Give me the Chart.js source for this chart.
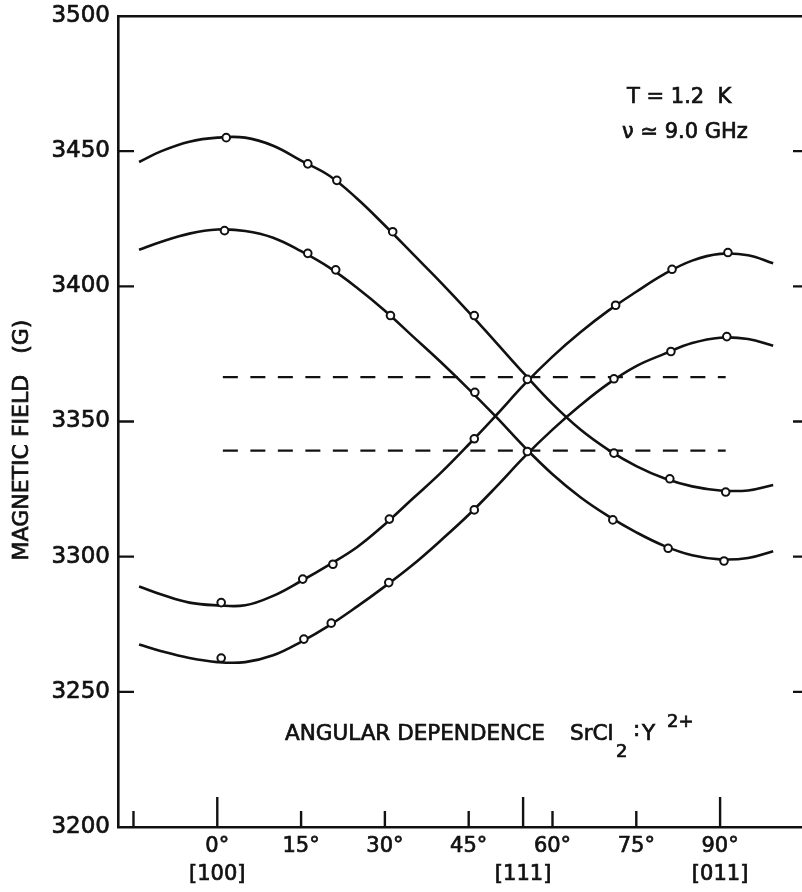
<!DOCTYPE html>
<html>
<head>
<meta charset="utf-8">
<script src="https://cdn.jsdelivr.net/npm/chart.js@4.4.1/dist/chart.umd.min.js"></script>
<style>
  html, body { margin: 0; padding: 0; background: #fff; overflow: hidden; }
  #wrap { position: relative; width: 802px; height: 892px; }
</style>
</head>
<body>
<div id="wrap"><canvas id="chart"></canvas></div>
<script>
const curveAngles = [-14, -10, -5, 0, 5, 10, 15, 20, 25, 30, 35, 40, 45, 50, 55, 60, 65, 70, 75, 80, 85, 90, 95, 99.5];

// Fitted curves (G)
const curveUpperFalling = [3446, 3450, 3453.5, 3455, 3455, 3452, 3446.5, 3441, 3432.5, 3422.5, 3412, 3401.5, 3390.5, 3379, 3367.5, 3356.5, 3347, 3339.5, 3333.5, 3329, 3326, 3324.5, 3324.5, 3326.5];
const curveLowerFalling = [3413.5, 3416.5, 3419.5, 3421, 3420.5, 3418, 3413, 3407, 3399.5, 3391, 3381.5, 3372, 3362, 3351.5, 3340.5, 3330.5, 3322, 3315, 3309, 3304, 3300.5, 3299, 3299.5, 3302];
const curveUpperRising = [3289, 3286, 3283, 3282, 3282, 3285.5, 3291, 3297, 3303.5, 3312, 3321.5, 3331, 3341.5, 3352.5, 3363.8, 3374, 3383, 3391, 3398, 3404.5, 3409.5, 3412, 3411.5, 3408.5];
const curveLowerRising = [3267.5, 3265, 3262.5, 3261, 3261, 3263.5, 3268.5, 3274.5, 3281.5, 3289, 3297, 3306, 3315.5, 3326, 3337, 3347, 3356, 3364, 3370.5, 3375, 3379, 3381, 3380.5, 3378];

// Measured points [angle, field]
const pointsUpperFalling = [[1.6, 3455], [16.2, 3445.3], [21.4, 3439.2], [31.4, 3420.2], [46, 3389.2], [71, 3338.3], [81, 3328.8], [91, 3323.9]];
const pointsLowerFalling = [[1.3, 3420.6], [16.2, 3412.2], [21.2, 3406.1], [31, 3389.2], [46.1, 3360.8], [70.8, 3313.6], [80.7, 3303.1], [90.7, 3298.4]];
const pointsUpperRising = [[0.7, 3283], [15.3, 3291.7], [20.7, 3297.2], [30.8, 3313.9], [46, 3343.6], [71.3, 3393], [81.4, 3406.3], [91.4, 3412.5]];
const pointsLowerRising = [[0.7, 3262.5], [15.5, 3269.5], [20.4, 3275.4], [30.7, 3290.4], [46, 3317.3], [71, 3365.8], [81.2, 3375.9], [91.2, 3381.4]];
const pointsCrossing = [[55.5, 3365.6], [55.5, 3338.9]];

// Dashed reference levels (G) and their angular extent
const dashLevels = [3366.4, 3339.2];
const dashRange = [1, 91];

// Axis ticks
const tickAngles = [-15, 0, 15, 30, 45, 54.74, 60, 75, 90];
const degreeLabels = ['', '0°', '15°', '30°', '45°', '', '60°', '75°', '90°'];
const directionLabels = ['', '[100]', '', '', '', '[111]', '', '', '[011]'];
const longTickAngles = [0, 54.74, 90];
const xRange = [-17.77, 104.66];
const yRange = [3200, 3500];
const yStep = 50;

const ink = '#111';
const fontFamily = '"DejaVu Sans", sans-serif';

const toXY = (angles, values) => angles.map((a, i) => ({ x: a, y: values[i] }));
const pairsToXY = (pairs) => pairs.map(([a, v]) => ({ x: a, y: v }));

const curveSet = (values) => ({
    type: 'line',
    data: toXY(curveAngles, values),
    borderColor: ink,
    borderWidth: 2.6,
    pointRadius: 0,
    tension: 0.4,
    fill: false,
    order: 2
});

const pointSet = (pairs) => ({
    type: 'line',
    data: pairsToXY(pairs),
    showLine: false,
    pointRadius: 3.8,
    pointBorderWidth: 2,
    pointBackgroundColor: '#fff',
    pointBorderColor: ink,
    order: 1
});

const dashSet = (level) => ({
    type: 'line',
    data: dashRange.map(a => ({ x: a, y: level })),
    borderColor: ink,
    borderWidth: 2.3,
    borderDash: [15, 12.5],
    pointRadius: 0,
    order: 3
});

// helper: text a bit heavier, like the lettering of the original
const heavyText = (ctx, text, x, y) => {
    ctx.fillText(text, x, y);
    ctx.strokeText(text, x, y);
};

// Inward tick marks and text annotations
const frameExtras = {
    id: 'frameExtras',
    afterDraw(chart) {
        const { ctx, chartArea: area, scales: { x, y } } = chart;
        ctx.save();
        ctx.strokeStyle = ink;
        ctx.lineWidth = 2.4;

        tickAngles.forEach(v => {
            const px = x.getPixelForValue(v);
            const len = longTickAngles.includes(v) ? 30 : 16;
            ctx.beginPath();
            ctx.moveTo(px, area.bottom);
            ctx.lineTo(px, area.bottom - len);
            ctx.stroke();
        });

        y.ticks.forEach(t => {
            if (t.value <= yRange[0] || t.value >= yRange[1]) return;
            const py = y.getPixelForValue(t.value);
            ctx.beginPath();
            ctx.moveTo(area.left, py);
            ctx.lineTo(area.left + 16, py);
            ctx.moveTo(area.right - 9, py);
            ctx.lineTo(area.right, py);
            ctx.stroke();
        });

        ctx.fillStyle = ink;
        ctx.lineWidth = 0.7;
        ctx.textBaseline = 'alphabetic';
        ctx.textAlign = 'left';

        ctx.font = `21px ${fontFamily}`;
        heavyText(ctx, 'T = 1.2  K', 627, 103);
        heavyText(ctx, 'ν ≃ 9.0 GHz', 622, 138);

        ctx.font = `21.5px ${fontFamily}`;
        heavyText(ctx, 'ANGULAR DEPENDENCE', 285, 740);
        heavyText(ctx, 'SrCl', 570, 740);
        heavyText(ctx, ':', 633, 736);
        heavyText(ctx, 'Y', 642, 740);
        ctx.font = `18px ${fontFamily}`;
        heavyText(ctx, '2', 616, 757);
        heavyText(ctx, '2+', 667, 727);

        // y axis title
        ctx.translate(22, 440);
        ctx.rotate(-Math.PI / 2);
        ctx.textAlign = 'center';
        ctx.textBaseline = 'middle';
        ctx.font = `22px ${fontFamily}`;
        heavyText(ctx, 'MAGNETIC FIELD   (G)', 0, 0);
        ctx.restore();
    }
};

document.addEventListener('DOMContentLoaded', () => {
    const ctx = document.getElementById('chart').getContext('2d');
    new Chart(ctx, {
        type: 'line',
        data: {
            datasets: [
                pointSet(pointsUpperFalling),
                pointSet(pointsLowerFalling),
                pointSet(pointsUpperRising),
                pointSet(pointsLowerRising),
                pointSet(pointsCrossing),
                curveSet(curveUpperFalling),
                curveSet(curveLowerFalling),
                curveSet(curveUpperRising),
                curveSet(curveLowerRising),
                ...dashLevels.map(dashSet)
            ]
        },
        options: {
            responsive: true,
            maintainAspectRatio: false,
            animation: false,
            layout: { padding: 0, autoPadding: false },
            plugins: {
                legend: { display: false },
                tooltip: { enabled: false }
            },
            scales: {
                x: {
                    type: 'linear',
                    position: 'bottom',
                    min: xRange[0],
                    max: xRange[1],
                    bounds: 'data',
                    afterBuildTicks: (scale) => {
                        scale.ticks = tickAngles.map(v => ({ value: v }));
                    },
                    afterFit: (scale) => {
                        scale.height = 65;
                        scale.paddingLeft = 0;
                        scale.paddingRight = 0;
                    },
                    grid: { display: false, drawTicks: false, drawOnChartArea: false },
                    border: { display: true, color: ink, width: 2.6 },
                    ticks: {
                        autoSkip: false,
                        maxRotation: 0,
                        padding: 6,
                        color: ink,
                        textStrokeColor: ink,
                        textStrokeWidth: 0.7,
                        font: { family: fontFamily, size: 21, lineHeight: 1.33 },
                        callback: (value, index) => directionLabels[index]
                            ? [degreeLabels[index], directionLabels[index]]
                            : degreeLabels[index]
                    }
                },
                x2: {
                    type: 'linear',
                    axis: 'x',
                    position: 'top',
                    min: xRange[0],
                    max: xRange[1],
                    afterFit: (scale) => {
                        scale.height = 16;
                        scale.paddingLeft = 0;
                        scale.paddingRight = 0;
                    },
                    grid: { display: false, drawTicks: false, drawOnChartArea: false },
                    border: { display: true, color: ink, width: 2.6 },
                    ticks: { display: false }
                },
                y: {
                    type: 'linear',
                    min: yRange[0],
                    max: yRange[1],
                    afterFit: (scale) => {
                        scale.width = 118;
                        scale.paddingTop = 0;
                        scale.paddingBottom = 0;
                    },
                    grid: { display: false, drawTicks: false, drawOnChartArea: false },
                    border: { display: true, color: ink, width: 2.6 },
                    ticks: {
                        stepSize: yStep,
                        padding: 8,
                        color: ink,
                        textStrokeColor: ink,
                        textStrokeWidth: 0.7,
                        font: { family: fontFamily, size: 23 },
                        callback: (value) => String(value)
                    }
                }
            }
        },
        plugins: [frameExtras]
    });
});
</script>
</body>
</html>
